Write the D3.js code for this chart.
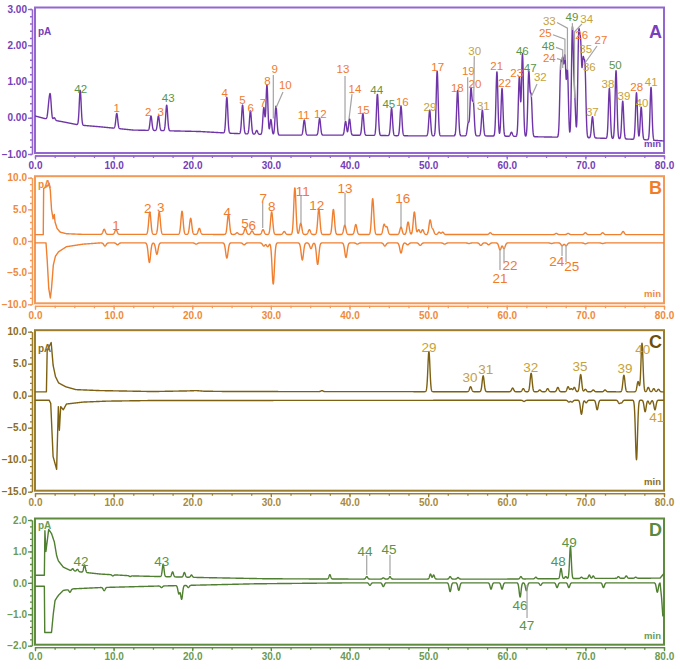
<!DOCTYPE html>
<html>
<head>
<meta charset="utf-8">
<script src="https://cdn.jsdelivr.net/npm/d3@7"></script>
<style>
  body { margin: 0; background: #fff; }
  svg { display: block; font-family: "Liberation Sans", Arial, sans-serif; }
</style>
</head>
<body>
<div id="chart"></div>
<script>
// ---- data (time in min, signal in pA) ----
const xTicks = d3.range(0, 81, 10);
const xMinor = d3.range(0, 80.01, 2.5);

// A
const aBase = [[0,0.05],[1.2,-0.02],[3.5,-0.11],[5.6,-0.2],[8.3,-0.25],[12.5,-0.34],[17,-0.36],[21,-0.38],[25,-0.43],[31,-0.48],[40,-0.48],[48,-0.5],[57,-0.5],[65,-0.53],[70,-0.55],[77,-0.6],[80,-0.64]];
const aPeaks = [[1.75,0.3],[1.95,0.56],[2.45,0.0],[5.75,0.76],[10.4,0.12],[14.75,0.05],[15.7,0.05],[16.75,0.35],[24.4,0.56],[26.4,0.35],[27.4,0.19],[28.2,-0.35],[29.1,0.28],[29.5,0.9],[30.0,-0.05],[30.65,0.32],[34.25,-0.06],[36.2,-0.02],[39.5,-0.1],[40.0,-0.03],[41.7,0.12],[43.55,0.65],[45.35,0.26],[46.55,0.32],[50.2,0.21],[51.15,1.29],[53.75,0.75],[55.1,-0.15],[55.45,0.79],[55.75,0.4],[56.9,0.21],[58.75,1.27],[59.4,0.81],[60.6,-0.4],[61.6,1.12],[62.0,1.76],[62.8,1.24],[63.1,0.58],[66.86,1.32],[67.12,1.36],[67.4,1.55],[67.72,1.27],[68.35,2.42],[68.62,0.56],[69.15,2.1],[69.4,1.78],[69.7,1.36],[69.95,1.27],[70.9,0.03],[73.05,0.81],[73.9,1.3],[74.75,0.46],[76.5,0.69],[77.1,0.29],[78.35,0.84]];
const aTicks = [-1, 0, 1, 2, 3];

// B
const bUpBase = [[0,1.0],[1.05,1.0],[1.1,8.3],[1.5,8.6],[1.8,9.1],[1.95,8.0],[2.1,5.0],[2.3,3.5],[2.45,4.2],[2.55,3.0],[2.8,2.0],[3.2,1.4],[4,1.15],[6,1.05],[80,1.0]];
const bUpPeaks = [[8.8,1.85],[10.3,1.8],[14.6,4.6],[15.8,4.6],[18.7,4.7],[19.8,3.6],[20.9,2.0],[24.6,4.2],[25.7,1.3],[26.75,2.0],[27.6,1.6],[29.0,1.8],[30.1,4.6],[31.7,1.5],[33.05,8.4],[33.8,2.8],[34.9,1.8],[36.1,5.1],[37.95,5.0],[39.4,2.5],[40.8,2.6],[42.95,6.7],[44.4,2.6],[44.75,2.2],[46.55,2.2],[47.45,3.0],[48.25,4.6],[48.8,1.8],[49.3,1.8],[50.25,3.3],[50.6,1.8],[51.4,1.4],[51.85,1.4],[57.9,1.3],[66.3,1.2],[67.8,1.2],[70.0,1.3],[72.2,1.3],[74.8,1.5]];
const bLoBase = [[0,-0.3],[1.4,-0.3],[1.55,-3],[1.75,-7.5],[1.95,-9.0],[2.1,-7.5],[2.33,-3.8],[2.6,-2.4],[3.0,-1.7],[4.0,-0.9],[6.1,-0.5],[8.3,-0.3],[80,-0.3]];
const bLoPeaks = [[8.9,-0.8],[10.5,-0.6],[14.55,-3.4],[15.5,-2.1],[20.5,-0.5],[24.4,-2.7],[26.6,-0.6],[29.1,-0.8],[29.6,-0.9],[30.3,-6.8],[34.0,-3.0],[35.1,-1.2],[35.95,-3.7],[39.55,-2.6],[41.0,-0.5],[44.5,-0.8],[46.55,-1.9],[47.4,-0.6],[49.0,-0.7],[52.1,-0.5],[55.2,-0.4],[56.7,-0.7],[57.7,-0.6],[59.15,-1.4],[59.65,-1.2],[65.7,-0.4],[67.05,-0.75],[67.55,-0.75],[70.0,-0.45],[72.2,-0.4]];
const bTicks = [-10, -5, 0, 5, 10];

// C
const cUpBase = [[0,0.6],[1.45,0.6],[1.55,7.1],[2.06,8.3],[2.3,4.8],[2.6,3.0],[3.0,2.0],[3.9,1.4],[5.2,0.95],[8.2,0.8],[15,0.65],[19.5,0.75],[20.5,0.8],[21.5,0.7],[25,0.65],[80,0.6]];
const cUpPeaks = [[36.5,0.8],[50.1,6.9],[55.4,1.4],[57.0,3.1],[60.75,1.2],[62.1,1.1],[63.1,3.5],[64.2,0.9],[65.2,1.1],[66.5,1.3],[67.8,1.4],[68.2,1.1],[68.6,1.3],[69.4,3.3],[70.0,1.0],[71.0,0.9],[72.5,0.9],[74.9,3.2],[76.7,2.2],[77.2,8.2],[78.0,1.3],[78.7,1.1],[79.3,1.0]];
const cLoBase = [[0,-0.7],[1.8,-0.7],[2.0,-1.2],[2.3,-9.5],[2.75,-11.5],[2.97,-1.7],[3.1,-5.4],[3.27,-1.7],[3.6,-2.2],[4.0,-1.3],[6.1,-1.0],[9.1,-0.85],[15,-0.75],[80,-0.7]];
const cLoPeaks = [[62.2,-0.9],[67.9,-1.0],[68.3,-1.0],[69.5,-2.9],[70.1,-1.1],[71.5,-2.2],[74.3,-1.2],[74.6,-1.1],[76.5,-10.0],[77.6,-2.5],[78.2,-1.3],[78.85,-2.2]];
const cTicks = [-15, -10, -5, 0, 5, 10];

// D
const dUpBase = [[0,0.24],[1.19,0.24],[1.26,1.66],[1.39,1.0],[1.74,1.7],[2.1,1.57],[2.46,1.3],[2.75,0.87],[2.97,0.7],[3.6,0.5],[4.45,0.4],[5.7,0.35],[8.3,0.28],[12.5,0.22],[21,0.17],[29.5,0.13],[40,0.12],[60,0.12],[70,0.14],[79.5,0.15],[80,0.3]];
const dUpPeaks = [[4.8,0.45],[5.4,0.43],[6.3,0.57],[9.9,0.22],[12.1,0.2],[16.3,0.59],[17.5,0.35],[19.0,0.33],[19.9,0.25],[37.5,0.26],[42.2,0.2],[44.3,0.16],[45.15,0.2],[50.3,0.28],[50.7,0.25],[52.8,0.2],[53.8,0.17],[61.8,0.2],[63.7,0.18],[66.9,0.46],[67.5,0.2],[68.1,1.15],[69.5,0.18],[70.5,0.25],[71.0,0.22],[74.2,0.2],[75.2,0.22],[76.4,0.18]];
const dLoBase = [[0,-0.11],[1.19,-0.11],[1.24,-1.58],[2.1,-1.58],[2.33,-0.98],[2.55,-0.56],[2.97,-0.4],[3.6,-0.24],[4.9,-0.19],[8.3,-0.15],[16,-0.1],[28,-0.03],[40,0.0],[79.5,0.0],[79.7,-0.5],[79.85,-1.05],[80,-1.0]];
const dLoPeaks = [[4.45,-0.3],[8.8,-0.25],[16.1,-0.15],[18.3,-0.35],[18.65,-0.52],[19.5,-0.15],[42.6,-0.08],[44.3,-0.12],[52.8,-0.28],[53.9,-0.24],[58.0,-0.2],[59.4,-0.2],[61.7,-0.45],[62.5,-0.25],[64.3,-0.08],[66.4,-0.15],[67.9,-0.15],[72.3,-0.15],[79.15,-0.3]];
const dTicks = [-2, -1, 0, 1, 2];

// peak labels: [text, group, t, v, leader points]
const aLabels = [
  ['42','g',5.81,0.81],['1','o',10.39,0.28],['2','o',14.41,0.16],['3','o',15.99,0.16],['43','g',16.95,0.54],
  ['4','o',24.13,0.68],['5','o',26.37,0.49],['6','o',27.43,0.28],['7','o',29.0,0.40],['8','o',29.55,1.01],
  ['9','o',30.49,1.34,[[30.31,1.18],[30.31,-0.02]]],['10','o',31.84,0.90,[[31.54,0.71],[30.65,0.27]]],
  ['11','o',34.17,0.08],['12','o',36.29,0.12],
  ['13','o',39.17,1.34,[[39.43,1.15],[39.43,-0.08]]],['14','o',40.7,0.81,[[40.32,0.65],[39.94,-0.03]]],
  ['15','o',41.76,0.21],['44','g',43.46,0.78],['45','g',45.0,0.38],['16','o',46.72,0.43],['29','y',50.24,0.30],
  ['17','o',51.22,1.40],['18','o',53.71,0.83],['19','o',55.11,1.30,[[55.03,1.12],[55.03,-0.12]]],
  ['20','o',55.96,0.93],['30','y',55.92,1.85,[[55.87,1.70],[55.8,0.41]]],['31','y',57.02,0.32],
  ['21','o',58.72,1.43],['22','o',59.74,0.96],['23','o',61.27,1.23],['46','g',61.98,1.84],['47','g',62.99,1.38],
  ['32','y',64.27,1.12,[[63.85,0.93],[63.1,0.57]]],
  ['33','y',65.41,2.68,[[66.39,2.63],[67.72,2.47],[67.72,1.32]]],
  ['25','o',64.9,2.33,[[65.88,2.29],[67.4,2.17],[67.4,1.59]]],
  ['48','g',65.28,1.98,[[66.26,1.94],[67.12,1.87],[67.12,1.37]]],
  ['24','o',65.41,1.64,[[66.39,1.63],[66.86,1.6],[66.86,1.32]]],
  ['49','g',68.3,2.78,[[68.35,2.61],[68.35,2.42]]],
  ['34','y',70.17,2.72,[[69.57,2.59],[68.62,2.37],[68.62,0.54]]],
  ['26','o',69.53,2.30],['35','y',70.04,1.90],['27','o',71.99,2.14,[[71.48,1.98],[69.95,1.51]]],
  ['36','y',70.5,1.40],['37','y',70.88,0.16],['38','y',72.88,0.93],['50','g',73.81,1.46],['39','y',74.91,0.60],
  ['28','o',76.53,0.85],['40','y',77.2,0.41],['41','y',78.38,0.99]
];
const bLabels = [
  ['1','o',10.3,2.5],['2','o',14.33,5.26],['3','o',15.99,5.42],['4','o',24.46,4.63],['5','o',26.71,2.8],['6','o',27.64,2.53],
  ['7','o',29.04,6.75,[[28.96,6.0],[28.96,2.05]]],['8','o',30.1,5.58],['11','o',34.05,7.9,[[33.83,7.1],[33.83,2.84]]],
  ['12','o',35.83,5.69],['13','o',39.43,8.42,[[39.43,7.58],[39.43,2.53]]],['16','o',46.77,6.84,[[46.55,6.16],[46.55,2.21]]],
  ['21','o',59.14,-5.8,[[59.14,-1.42],[59.14,-4.58]]],['22','o',60.41,-3.79,[[59.65,-1.1],[59.65,-3.32]]],
  ['24','o',66.35,-3.16,[[67.03,-0.6],[67.03,-2.37]]],['25','o',68.26,-3.9,[[67.54,-0.6],[67.54,-3.32]]]
];
const cLabels = [
  ['29','y',50.11,7.56],['30','y',55.33,2.88],['31','y',57.32,4.17],['32','y',63.05,4.53],['35','y',69.32,4.69],
  ['39','y',75.04,4.28],['40','y',77.29,7.3],['41','y',79.07,-3.38]
];
const dLabels = [
  ['42','g',5.85,0.70],['43','g',16.11,0.70],['44','g',41.97,1.01,[[42.19,0.89],[42.19,0.25]]],
  ['45','g',45.02,1.07,[[45.15,0.89],[45.15,0.25]]],['48','g',66.56,0.69],['49','g',67.96,1.31],
  ['46','g',61.69,-0.71],['47','g',62.54,-1.34,[[62.58,-0.07],[62.58,-1.12]]]
];

// ---- layout / styles ----
const W = 680, H = 669;
const X0 = 35, X1 = 664;
const labelColor = { o: '#f07b2d', y: '#c6a23a', g: '#5b9445' };

const panels = [
  { id: 'A', ticks: aTicks, minor: 0.2, fmt: '.2f', lo: -1, hi: 3, yLo: 154, yHi: 9,
    line: '#6f35a8', frame: '#9466d0', text: '#7440b8', xText: '#7440b8', letter: '#7a3fc0',
    traces: [[aBase, aPeaks, 0.12]], labels: aLabels, fs: 11.5, pAy: 24 },
  { id: 'B', ticks: bTicks, minor: 1, fmt: '.1f', lo: -10, hi: 10, yLo: 304.3, yHi: 177.7,
    line: '#f07f30', frame: '#f39a58', text: '#f08a3a', xText: '#f08a3a', letter: '#f07d2a',
    traces: [[bUpBase, bUpPeaks, 0.14], [bLoBase, bLoPeaks, 0.15]], labels: bLabels, fs: 13.5, pAy: 8 },
  { id: 'C', ticks: cTicks, minor: 1, fmt: '.1f', lo: -15, hi: 10, yLo: 491.7, yHi: 331.7,
    line: '#7d6012', frame: '#9b7d2e', text: '#8b6d1e', xText: '#a88a3c', letter: '#6a5010',
    traces: [[cUpBase, cUpPeaks, 0.13], [cLoBase, cLoPeaks, 0.13]], labels: cLabels, fs: 13.5, pAy: 18 },
  { id: 'D', ticks: dTicks, minor: 0.2, fmt: '.1f', lo: -2, hi: 2, yLo: 645.7, yHi: 520,
    line: '#4f7f30', frame: '#5d8c3f', text: '#6b9a52', xText: '#6b9a52', letter: '#5a8a40',
    traces: [[dUpBase, dUpPeaks, 0.11], [dLoBase, dLoPeaks, 0.12]], labels: dLabels, fs: 13.5, pAy: 7 }
];

const svg = d3.select('#chart').append('svg')
  .attr('width', W).attr('height', H);

const x = d3.scaleLinear().domain([0, 80]).range([X0, X1]);

// baseline + gaussian peaks from the peak table
function buildTrace(base, peaks, sigma) {
  const b = d3.scaleLinear().domain(base.map(d => d[0])).range(base.map(d => d[1]));
  const ts = Array.from(new Set(d3.range(0, 80.0001, 0.02).map(t => +t.toFixed(3)).concat(base.map(d => d[0]))))
    .sort((p, q) => p - q);
  return ts.map(t => {
    let v = b(t);
    peaks.forEach(([pt, ph]) => {
      const dt = t - pt;
      if (Math.abs(dt) < 6 * sigma) v += (ph - b(pt)) * Math.exp(-dt * dt / (2 * sigma * sigma));
    });
    return [t, v];
  });
}

panels.forEach(p => {
  const y = d3.scaleLinear().domain([p.lo, p.hi]).range([p.yLo, p.yHi]);
  const top = p.yHi - 1.5, bottom = p.yLo - 1;
  const g = svg.append('g');

  g.append('clipPath').attr('id', 'clip' + p.id)
    .append('rect').attr('x', X0).attr('y', top).attr('width', X1 - X0).attr('height', bottom - top);

  // frame
  g.append('rect')
    .attr('x', X0).attr('y', top).attr('width', X1 - X0).attr('height', bottom - top)
    .attr('fill', 'none').attr('stroke', p.frame).attr('stroke-width', 2);

  // y axis (minor then major)
  const yMinor = d3.range(p.lo, p.hi + 1e-6, p.minor);
  g.append('g').attr('transform', 'translate(32,0)')
    .call(d3.axisLeft(y).tickValues(yMinor).tickSize(2).tickFormat('').tickSizeOuter(0));
  g.append('g').attr('class', 'ymaj').attr('transform', 'translate(32,0)')
    .call(d3.axisLeft(y).tickValues(p.ticks).tickSize(4).tickPadding(1).tickFormat(d3.format(p.fmt)).tickSizeOuter(0));

  // x axis
  const xa = bottom + 2.5;
  g.append('g').attr('transform', `translate(0,${xa})`)
    .call(d3.axisBottom(x).tickValues(xMinor).tickSize(2.5).tickFormat('').tickSizeOuter(0));
  g.append('g').attr('class', 'xmaj').attr('transform', `translate(0,${xa})`)
    .call(d3.axisBottom(x).tickValues(xTicks).tickSize(4).tickPadding(2).tickFormat(d3.format('.1f')).tickSizeOuter(0));

  g.selectAll('.domain, .tick line').attr('stroke', p.frame).attr('stroke-width', 1.3);
  g.selectAll('.ymaj text').attr('fill', p.text).attr('font-size', 10).attr('font-weight', 'bold')
    .attr('font-family', '"Liberation Sans", Arial, sans-serif');
  g.selectAll('.xmaj text').attr('fill', p.xText).attr('font-size', 10).attr('font-weight', 'bold')
    .attr('font-family', '"Liberation Sans", Arial, sans-serif');

  // traces
  const line = d3.line().x(d => x(d[0])).y(d => y(d[1]));
  const tg = g.append('g').attr('clip-path', `url(#clip${p.id})`);
  p.traces.forEach(([base, peaks, sigma]) => {
    tg.append('path').attr('d', line(buildTrace(base, peaks, sigma)))
      .attr('fill', 'none').attr('stroke', p.line).attr('stroke-width', 1.4)
      .attr('stroke-linejoin', 'round');
  });

  // leader lines + labels
  p.labels.forEach(([txt, grp, t, v, lead]) => {
    if (lead) {
      g.append('path').attr('d', d3.line().x(d => x(d[0])).y(d => y(d[1]))(lead))
        .attr('fill', 'none').attr('stroke', '#a3a3a3').attr('stroke-width', 1.2);
    }
    g.append('text').attr('x', x(t)).attr('y', y(v)).attr('dy', '0.36em')
      .attr('text-anchor', 'middle').attr('font-size', p.fs)
      .attr('fill', labelColor[grp]).text(txt);
  });

  // pA, min, panel letter
  g.append('text').attr('x', 38).attr('y', top + p.pAy).attr('dy', '0.36em')
    .attr('font-size', 10).attr('font-weight', 'bold').attr('fill', p.text).text('pA');
  g.append('text').attr('x', X1 - 3).attr('y', bottom - 6).attr('text-anchor', 'end')
    .attr('font-size', 9.5).attr('font-weight', 'bold').attr('fill', p.text).text('min');
  g.append('text').attr('x', X1 - 2).attr('y', top + (p.id === 'A' ? 24 : 11)).attr('dy', '0.36em')
    .attr('text-anchor', 'end').attr('font-size', 18).attr('font-weight', 'bold')
    .attr('fill', p.letter).text(p.id);
});
</script>
</body>
</html>
